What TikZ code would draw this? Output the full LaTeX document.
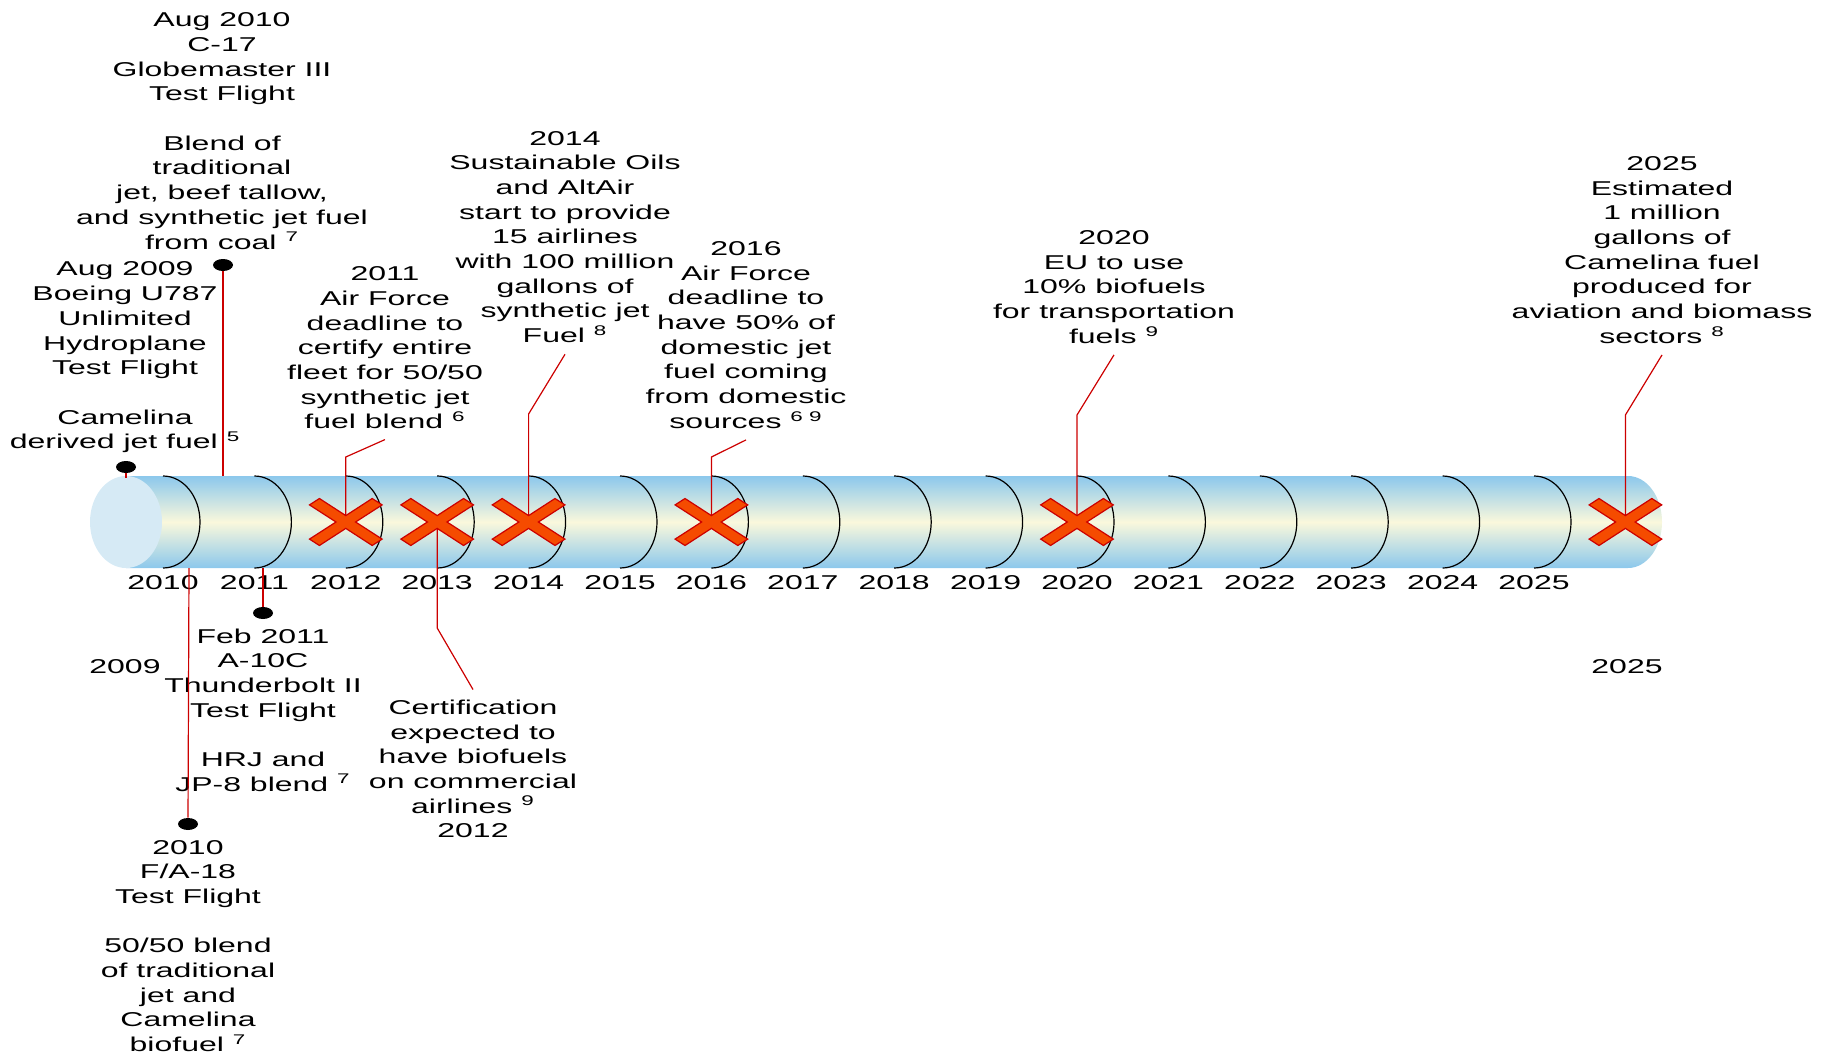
\documentclass[tikz,border=0pt]{standalone}
\usepackage{fontspec}
\setmainfont{Liberation Sans}[FakeStretch=1.6]
\usetikzlibrary{shapes.geometric}
\definecolor{tubeblue}{RGB}{140,200,236}
\definecolor{tubecream}{RGB}{250,248,220}
\definecolor{capblue}{RGB}{214,234,245}
\definecolor{leadred}{RGB}{204,0,0}
\definecolor{crossfill}{RGB}{245,75,0}

\begin{document}
\begin{tikzpicture}[x=0.5pt, y=-0.5pt,
    txt/.style={align=center, inner sep=0pt, font=\fontsize{10}{12.35}\selectfont},
    yearlbl/.style={inner sep=0pt, font=\fontsize{10}{12}\selectfont},
    lead/.style={draw=leadred, line width=0.6pt},
    dot/.style={ellipse, fill=black, inner sep=0pt, minimum width=10pt, minimum height=6pt},
    seg/.style={black, line width=0.6pt},
    cross/.pic={
      \filldraw[fill=crossfill, draw=leadred, line width=0.6pt]
        (0,6.4) -- (26.4,23.5) -- (36.3,17.1) -- (9.8,0) -- (36.3,-17.1) -- (26.4,-23.5)
        -- (0,-6.4) -- (-26.4,-23.5) -- (-36.3,-17.1) -- (-9.8,0) -- (-36.3,17.1) -- (-26.4,23.5) -- cycle;
    }
  ]
  \useasboundingbox (0,0) rectangle (1831,1054);

  % tube
  \shade[top color=tubeblue, bottom color=tubeblue, middle color=tubecream]
    (126,476) -- (1628,476) arc[start angle=-90, end angle=90, x radius=34, y radius=46] -- (126,568) -- cycle;
  \fill[capblue] (126,522) ellipse[x radius=36, y radius=46];

  \foreach \i in {0,...,15} {
    \draw[seg] (163+91.4*\i,476) arc[start angle=-90, end angle=90, x radius=37, y radius=46];
    \pgfmathtruncatemacro{\yr}{2010+\i}
    \node[yearlbl] (y\yr) at (163+91.4*\i,583) {\yr};
  }
  \foreach \i/\n in {2/x12, 3/x13, 4/x14, 6/x16, 10/x20, 16/x25}
    \coordinate (\n) at (163+91.4*\i,522);

  \node[yearlbl] (lbl09) at (125,667) {2009};
  \node[yearlbl] (lbl25) at (1627,667) {2025};

  % events above
  \node[txt] (boeing) at (125,357.5) {Aug 2009\\Boeing U787\\Unlimited\\Hydroplane\\Test Flight\\[12.35pt]Camelina\\derived jet fuel \textsuperscript{5}};
  \node[txt] (globe) at (222,131) {Aug 2010\\C-17\\Globemaster III\\Test Flight\\[12.35pt]Blend of\\traditional\\jet, beef tallow,\\and synthetic jet fuel\\from coal \textsuperscript{7}};
  \node[txt] (af11) at (385,348) {2011\\Air Force\\deadline to\\certify entire\\fleet for 50/50\\synthetic jet\\fuel blend \textsuperscript{6}};
  \node[txt] (sust) at (565,237) {2014\\Sustainable Oils\\and AltAir\\start to provide\\15 airlines\\with 100 million\\gallons of\\synthetic jet\\Fuel \textsuperscript{8}};
  \node[txt] (af16) at (746,335) {2016\\Air Force\\deadline to\\have 50\% of\\domestic jet\\fuel coming\\from domestic\\sources \textsuperscript{6 9}};
  \node[txt] (eu20) at (1114,287) {2020\\EU to use\\10\% biofuels\\for transportation\\fuels \textsuperscript{9}};
  \node[txt] (est25) at (1662,250) {2025\\Estimated\\1 million\\gallons of\\Camelina fuel\\produced for\\aviation and biomass\\sectors \textsuperscript{8}};

  % events below
  \node[txt] (tbolt) at (263,710) {Feb 2011\\A-10C\\Thunderbolt II\\Test Flight\\[12.35pt]HRJ and\\JP-8 blend \textsuperscript{7}};
  \node[txt] (hornet) at (188,946) {2010\\F/A-18\\Test Flight\\[12.35pt]50/50 blend\\of traditional\\jet and\\Camelina\\biofuel \textsuperscript{7}};
  \node[txt] (cert) at (473,769) {Certification\\expected to\\have biofuels\\on commercial\\airlines \textsuperscript{9}\\2012};

  % dots and leads
  \node[dot] (d09) at (126,467) {};
  \node[dot] (d10) at (223,265) {};
  \node[dot] (d11) at (263,613) {};
  \node[dot] (d10b) at (188,824) {};
  \coordinate (t09) at (126,478);
  \coordinate (t10) at (223,476);
  \coordinate (t11) at (263,568);
  \coordinate (t10b) at (189,568);
  \draw[lead] (d09) -- (t09);
  \draw[lead] (d10) -- (t10);
  \draw[lead] (t11) -- (d11);
  \draw[lead] (t10b) -- (d10b);

  \coordinate (b12) at (x12 |- 0,457);
  \coordinate (b13) at (x13 |- 0,628);
  \coordinate (b14) at (x14 |- 0,414);
  \coordinate (b16) at (x16 |- 0,457);
  \coordinate (b20) at (x20 |- 0,415);
  \coordinate (b25) at (x25 |- 0,415);
  \draw[lead] ([yshift=-5pt]af11.south) -- (b12) -- (x12);
  \draw[lead] ([yshift=-5.5pt]sust.south) -- (b14) -- (x14);
  \draw[lead] ([yshift=-5.5pt]af16.south) -- (b16) -- (x16);
  \draw[lead] ([yshift=-5.5pt]eu20.south) -- (b20) -- (x20);
  \draw[lead] ([yshift=-5.5pt]est25.south) -- (b25) -- (x25);
  \draw[lead] (x13) -- (b13) -- ([yshift=5pt]cert.north);

  \foreach \n in {x12, x13, x14, x16, x20, x25}
    \pic at (\n) {cross};
\end{tikzpicture}
\end{document}
